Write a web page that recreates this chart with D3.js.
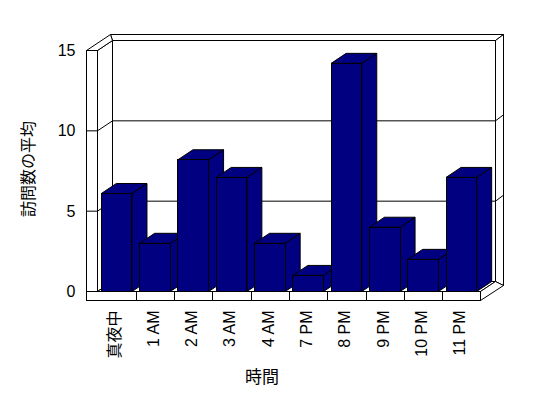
<!DOCTYPE html>
<html>
<head>
<meta charset="utf-8">
<script src="https://cdnjs.cloudflare.com/ajax/libs/d3/7.8.5/d3.min.js"></script>
<style>
  body { margin: 0; background: #fff; }
  text { font-family: "Liberation Sans", Arial, "Noto Sans CJK JP", sans-serif; fill: #000; }
  rect { shape-rendering: crispEdges; }
</style>
</head>
<body>
<div id="chart"></div>
<script>
// data
var hours = ["真夜中", "1 AM", "2 AM", "3 AM", "4 AM", "7 PM", "8 PM", "9 PM", "10 PM", "11 PM"];
var visits = [6.1, 3.0, 8.2, 7.1, 3.0, 1.0, 14.2, 4.0, 2.0, 7.1];
var yTicks = [0, 5, 10, 15];
var xTitle = "時間";
var yTitle = "訪問数の平均";

var w = 548, h = 398;

// front plane of the 3d box
var left = 97.5, right = 480.5, base = 291.5, top15 = 50.5;
var dx = 15, dy = -10;          // depth of the bars / walls
var wallT = 11, floorT = 9;     // wall and floor thickness
var bx = 8, by = -6;            // back wall thickness

var x = d3.scaleBand()
    .domain(hours)
    .range([left, right])
    .paddingInner(0.2)
    .paddingOuter(0.1);

var y = d3.scaleLinear()
    .domain([0, 15])
    .range([base, top15]);

var svg = d3.select("#chart")
    .append("svg")
    .attr("width", w)
    .attr("height", h);

function poly(pts) {
    return "M" + pts.map(function(p) { return p[0] + "," + p[1]; }).join("L") + "Z";
}

var frame = svg.append("g")
    .attr("fill", "#fff")
    .attr("stroke", "#000")
    .attr("stroke-width", 1);

var bl = left + dx, br = right + dx;   // back wall inner x
var yb = function(v) { return y(v) + dy; };

// back wall: thickness on top and right
frame.append("path").attr("d", poly([[bl, yb(15)], [br, yb(15)], [br + bx, yb(15) + by], [bl - 2, yb(15) + by]]));
frame.append("path").attr("d", poly([[br, yb(15)], [br + bx, yb(15) + by], [br + bx, yb(0) + by + 10], [br, yb(0)]]));
frame.append("rect")
    .attr("x", bl).attr("y", yb(15))
    .attr("width", br - bl).attr("height", yb(0) - yb(15));

// left wall: inner face, front edge and top
frame.append("path").attr("d", poly([[left, y(15)], [bl, yb(15)], [bl, yb(0)], [left, y(0)]]));
frame.append("path").attr("d", poly([[left - wallT, y(15)], [left, y(15)], [bl, yb(15)], [bl - 2, yb(15) + by]]));
frame.append("rect")
    .attr("x", left - wallT).attr("y", y(15))
    .attr("width", wallT).attr("height", y(0) + floorT - y(15));

// floor: top, right side, front face
frame.append("path").attr("d", poly([[left, y(0)], [right, y(0)], [br, yb(0)], [bl, yb(0)]]));
frame.append("path").attr("d", poly([[right, y(0)], [br, yb(0)], [br + bx, yb(0) + by + 10], [right, y(0) + floorT]]));
frame.append("rect")
    .attr("x", left - wallT).attr("y", y(0))
    .attr("width", right - left + wallT).attr("height", floorT);

// tick marks on the floor front face between categories
frame.selectAll("line.xtick")
    .data(hours.slice(1))
    .enter().append("line")
    .attr("class", "xtick")
    .attr("x1", function(d) { return Math.round(x(d) - x.step() * 0.1) + 0.5; })
    .attr("x2", function(d) { return Math.round(x(d) - x.step() * 0.1) + 0.5; })
    .attr("y1", y(0))
    .attr("y2", y(0) + floorT);

// gridlines on back wall, left wall and the walls' edges
var grid = frame.selectAll("g.grid")
    .data(yTicks.filter(function(v) { return v > 0 && v < 15; }))
    .enter().append("g").attr("class", "grid");
grid.append("line")
    .attr("x1", bl).attr("x2", br)
    .attr("y1", yb).attr("y2", yb);
grid.append("line")
    .attr("x1", left).attr("x2", bl)
    .attr("y1", y).attr("y2", yb);
grid.append("line")
    .attr("x1", left - wallT).attr("x2", left)
    .attr("y1", y).attr("y2", y);
grid.append("line")
    .attr("x1", br).attr("x2", br + bx)
    .attr("y1", yb).attr("y2", function(d) { return yb(d) + by; });

// bars, left to right so each covers the previous one's side
var bars = svg.append("g")
    .attr("fill", "#000080")
    .attr("stroke", "#000")
    .attr("stroke-width", 1)
    .selectAll("g")
    .data(hours)
    .enter().append("g");

bars.append("path") // side
    .attr("d", function(d, i) {
        var x1 = x(d) + x.bandwidth(), yt = y(visits[i]);
        return poly([[x1, yt], [x1 + dx, yt + dy], [x1 + dx, base + dy], [x1, base]]);
    });
bars.append("path") // top
    .attr("d", function(d, i) {
        var x0 = x(d), x1 = x0 + x.bandwidth(), yt = y(visits[i]);
        return poly([[x0, yt], [x0 + dx, yt + dy], [x1 + dx, yt + dy], [x1, yt]]);
    });
bars.append("rect") // front
    .attr("x", function(d) { return x(d); })
    .attr("y", function(d, i) { return y(visits[i]); })
    .attr("width", x.bandwidth())
    .attr("height", function(d, i) { return base - y(visits[i]); });

// y axis labels
var yAxis = d3.axisLeft(y)
    .tickValues(yTicks)
    .tickSize(0)
    .tickPadding(11);
var yg = svg.append("g")
    .attr("transform", "translate(" + (left - wallT) + ",0)")
    .call(yAxis);
yg.select(".domain").remove();
yg.selectAll("text")
    .style("fill", "#000")
    .style("font-size", "16px")
    .style("font-family", "'Liberation Sans', Arial, sans-serif");

// x axis labels, rotated
var xAxis = d3.axisBottom(x).tickSize(0);
var xg = svg.append("g")
    .attr("transform", "translate(-2," + (y(0) + floorT) + ")")
    .call(xAxis);
xg.select(".domain").remove();
xg.selectAll("text")
    .attr("transform", "rotate(-90)")
    .attr("text-anchor", "end")
    .attr("x", -10)
    .attr("y", 0)
    .attr("dy", "0.36em")
    .style("fill", "#000")
    .style("font-size", "16px")
    .style("font-family", "'Liberation Sans', Arial, 'Noto Sans CJK JP', sans-serif");

// axis titles
svg.append("text")
    .attr("x", 262)
    .attr("y", 383)
    .attr("text-anchor", "middle")
    .style("fill", "#000")
    .style("font-size", "17px")
    .style("font-family", "'Noto Sans CJK JP', sans-serif")
    .text(xTitle);

svg.append("text")
    .attr("transform", "translate(28,169) rotate(-90)")
    .attr("text-anchor", "middle")
    .attr("dy", "0.36em")
    .style("fill", "#000")
    .style("font-size", "16px")
    .style("font-family", "'Noto Sans CJK JP', sans-serif")
    .text(yTitle);
</script>
</body>
</html>
